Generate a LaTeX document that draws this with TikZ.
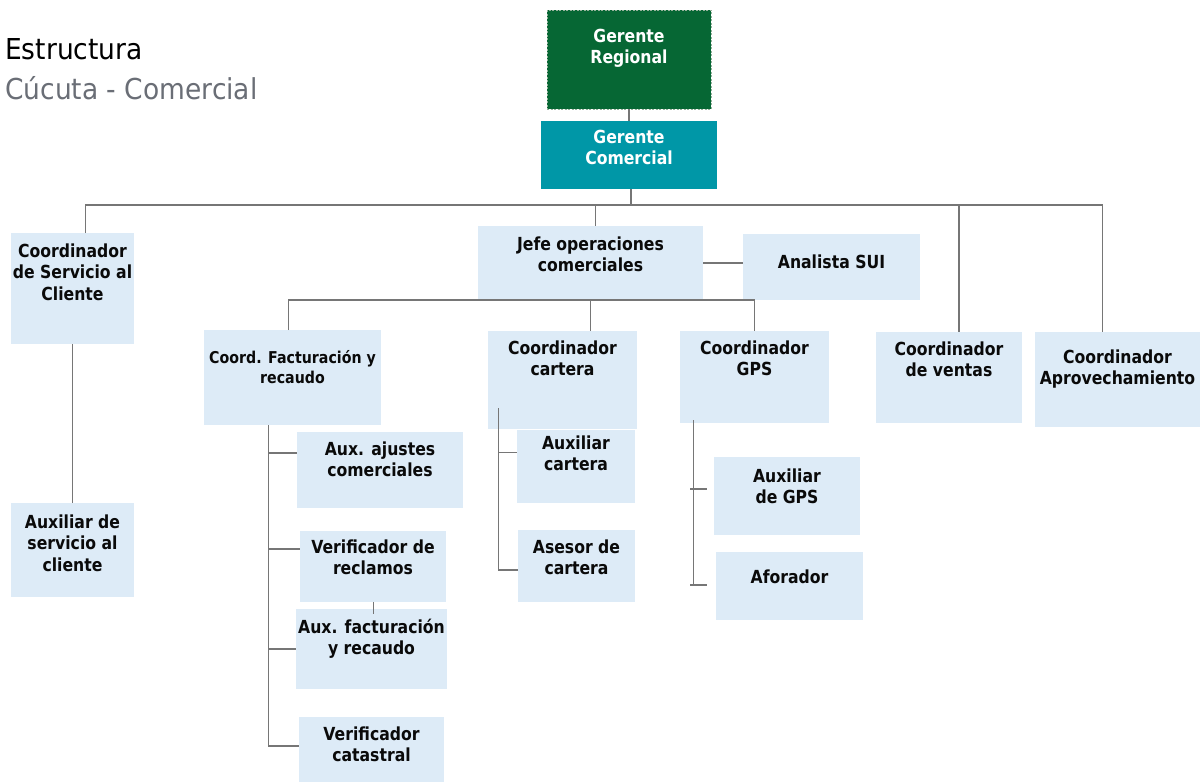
\documentclass[tikz,border=0pt]{standalone}
\usepackage{fontspec}
\newfontfamily\orgfont{DejaVu Sans}[FakeStretch=0.87]
\newfontfamily\titlefont{DejaVu Sans}[FakeStretch=0.92]
\definecolor{boxblue}{RGB}{221,235,247}
\definecolor{regreen}{RGB}{6,103,52}
\definecolor{regborder}{RGB}{150,178,156}
\definecolor{comteal}{RGB}{0,151,167}
\definecolor{linegray}{RGB}{118,118,118}
\definecolor{subgray}{RGB}{106,110,118}
\definecolor{boxtext}{RGB}{10,10,10}
% width, height, first baseline, text
\newcommand{\orgtxt}[4]{\parbox[c][#2pt][t]{#1pt}{\centering\rule{0pt}{#3pt}#4}}

\begin{document}
\begin{tikzpicture}[x=1pt,y=-1pt,
  box/.style={fill=boxblue, inner sep=0pt, outer sep=0pt, anchor=north west, text=boxtext,
    font={\orgfont\bfseries\fontsize{18}{21.5}\selectfont}},
  regbox/.style={box, fill=regreen, draw=regborder, dash pattern=on 2pt off 1.5pt, line width=1pt, text=white},
  combox/.style={box, fill=comteal, text=white},
  link/.style={draw=linegray, line width=1.4pt},
  ttl/.style={anchor=base west, inner sep=0pt, font={\titlefont\fontsize{28.8}{34}\selectfont}}]
  \useasboundingbox (0,0) rectangle (1203,782);
  \fill[white] (0,0) rectangle (1203,782);

  % title
  \node[ttl, text=black] (ttlA) at (5,59) {Estructura};
  \node[ttl, text=subgray] (ttlB) at (5,99) {Cúcuta - Comercial};

  % top
  \node[regbox] (greg) at (547,10) {\orgtxt{164}{99}{32}{Gerente\\Regional}};
  \node[combox] (gcom) at (541,121) {\orgtxt{176}{68}{22}{Gerente\\Comercial}};

  % second level
  \node[box] (csc) at (11,233) {\orgtxt{123}{111}{24}{Coordinador\\de Servicio al\\Cliente}};
  \node[box] (asc) at (11,503) {\orgtxt{123}{94}{25}{Auxiliar de\\servicio al\\cliente}};
  \node[box] (jefe) at (478,226) {\orgtxt{225}{74}{24}{Jefe operaciones\\comerciales}};
  \node[box] (anal) at (743,234) {\orgtxt{177}{66}{34}{Analista SUI}};
  \node[box] (cven) at (876,332) {\orgtxt{146}{91}{23}{Coordinador\\de ventas}};
  \node[box] (capr) at (1035,332) {\orgtxt{165}{95}{31}{Coordinador\\Aprovechamiento}};

  % under jefe
  \node[box] (fact) at (204,330) {\orgtxt{177}{95}{33}{\fontsize{16.3}{20}\selectfont Coord. Facturación y\\recaudo}};
  \node[box] (cart) at (488,331) {\orgtxt{149}{98}{23}{Coordinador\\cartera}};
  \node[box] (gps) at (680,331) {\orgtxt{149}{92}{23}{Coordinador\\GPS}};

  % facturacion
  \node[box] (aaj) at (297,432) {\orgtxt{166}{76}{23}{Aux. ajustes\\comerciales}};
  \node[box] (vrec) at (300,531) {\orgtxt{146}{71}{22}{Verificador de\\reclamos}};
  \node[box] (afr) at (296,609) {\orgtxt{151}{80}{24}{Aux. facturación\\y recaudo}};
  \node[box] (vcat) at (299,717) {\orgtxt{145}{65}{23}{Verificador\\catastral}};

  % cartera
  \node[box] (auxc) at (517,430) {\orgtxt{118}{73}{19}{Auxiliar\\cartera}};
  \node[box] (asec) at (518,530) {\orgtxt{117}{72}{23}{Asesor de\\cartera}};

  % gps
  \node[box] (agps) at (714,457) {\orgtxt{146}{78}{25}{Auxiliar\\de GPS}};
  \node[box] (afor) at (716,552) {\orgtxt{147}{68}{31}{Aforador}};

  % lines
  \coordinate (busA) at (631,205);
  \draw[link] (greg) -- (gcom);
  \draw[link] (busA |- gcom.south) -- (busA);
  \draw[link] ([xshift=13pt]csc.north) |- (busA) -| ([xshift=-15pt]capr.north);
  \draw[link] (busA) -| ([xshift=5pt]jefe.north);
  \draw[link] (busA) -| ([xshift=10pt]cven.north);
  \draw[link] (csc.south) -- (asc.north);
  \draw[link] (jefe.east) -- (jefe.east -| anal.west);

  \draw[link] ([xshift=-4pt]fact.north) |- (jefe.south) -| (gps.north);
  \draw[link] (jefe.south) -- (cart.north -| jefe.south);

  \draw[link] ([xshift=-24pt]fact.south) |- ([yshift=17pt]aaj.west);
  \draw[link] ([xshift=-24pt]fact.south) |- ([yshift=17.5pt]vrec.west);
  \draw[link] ([xshift=-24pt]fact.south) |- (afr.west);
  \draw[link] ([xshift=-24pt]fact.south) |- ([yshift=3.5pt]vcat.west);
  \draw[link, line width=1pt] (vrec.south) -- ++(0,12);

  \draw[link] ([xshift=-64pt,yshift=21pt]cart.south) |- ([yshift=14pt]auxc.west);
  \draw[link] ([xshift=-64pt,yshift=21pt]cart.south) |- ([yshift=-4pt]asec.west);

  \draw[link] ([xshift=-61pt,yshift=3pt]gps.south) |- ([xshift=-9pt,yshift=1pt]afor.west);
  \draw[link] ([xshift=-24pt,yshift=7pt]agps.west) -- ++(17,0);
  \draw[link] ([xshift=-26pt,yshift=1pt]afor.west) -- ++(17,0);
\end{tikzpicture}
\end{document}
